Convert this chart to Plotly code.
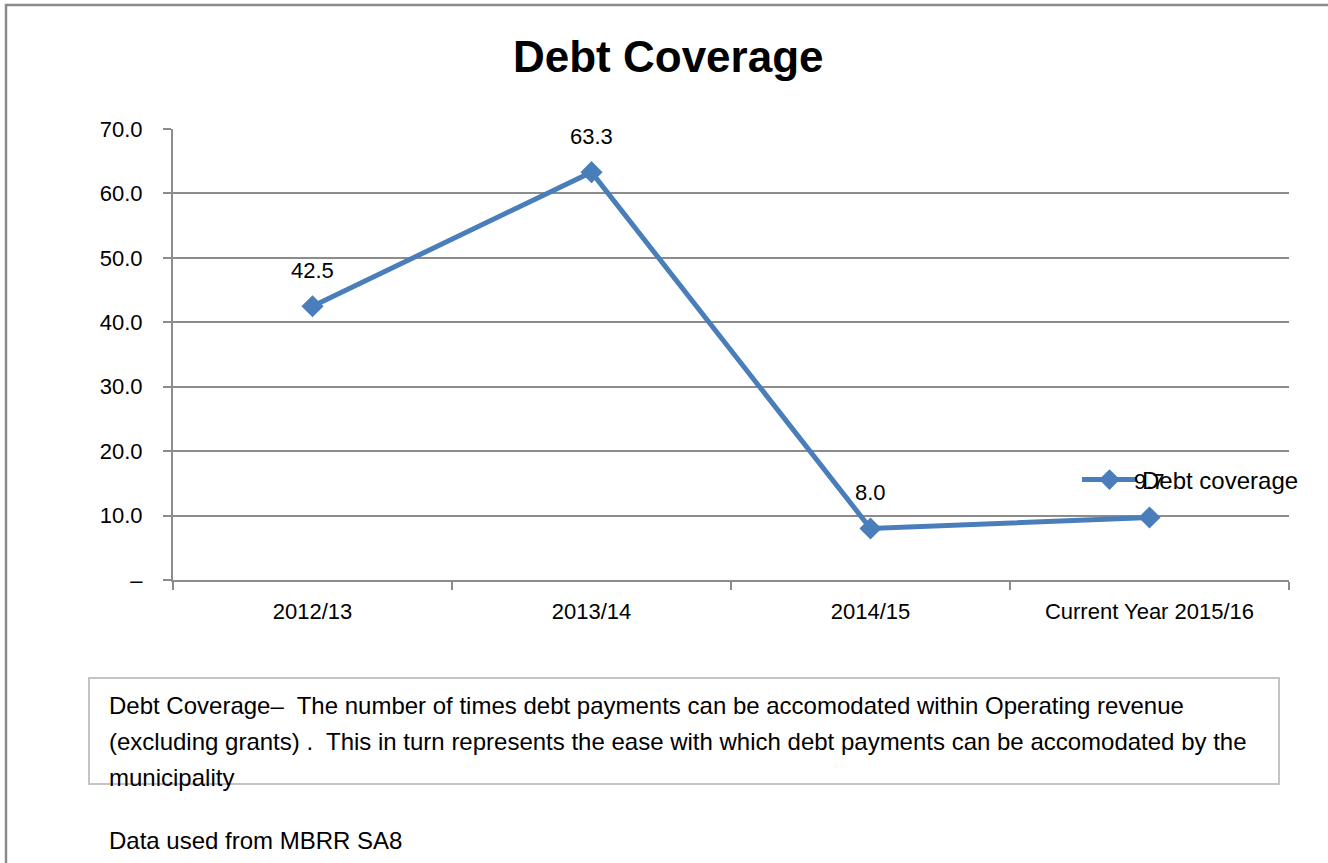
import plotly.graph_objects as go

# Debt coverage ratio per financial year
years = ["2012/13", "2013/14", "2014/15", "Current Year 2015/16"]
debt_coverage = [42.5, 63.3, 8.0, 9.7]
labels = ["42.5", "63.3", "8.0", "9.7"]

y_ticks = [0, 10, 20, 30, 40, 50, 60, 70]
y_tick_text = ["–", "10.0", "20.0", "30.0", "40.0", "50.0", "60.0", "70.0"]

note_lines = [
    "Debt Coverage–  The number of times debt payments can be accomodated within Operating revenue",
    "(excluding grants) .  This in turn represents the ease with which debt payments can be accomodated by the",
    "municipality",
]
source_note = "Data used from MBRR SA8"

FONT = "Liberation Sans, Arial, sans-serif"
LINE_COLOR = "#4a7ebb"
GRID = "#8c8c8c"

W, H = 1328, 863
L, R, T, B = 173, 39, 129, 283
pw, ph = W - L - R, H - T - B


def px(x):
    return (x - L) / pw


def py(y):
    return (H - B - y) / ph


fig = go.Figure()
fig.add_trace(go.Scatter(
    x=years, y=debt_coverage, name="Debt coverage",
    mode="lines+markers",
    line=dict(color=LINE_COLOR, width=5),
    marker=dict(symbol="diamond", size=17, color=LINE_COLOR),
    cliponaxis=False,
))

fig.update_layout(
    width=W, height=H, autosize=False,
    margin=dict(l=L, r=R, t=T, b=B),
    paper_bgcolor="white", plot_bgcolor="white",
    font=dict(family=FONT, color="#000"),
    showlegend=True,
    legend=dict(x=px(1077), y=py(480), xanchor="left", yanchor="middle",
                bgcolor="rgba(0,0,0,0)", font=dict(size=24, family=FONT),
                itemwidth=55, tracegroupgap=0),
    xaxis=dict(
        type="category", range=[-0.5, 3.5], tickson="boundaries",
        ticks="outside", ticklen=8, tickcolor=GRID, tickwidth=2,
        showline=True, linecolor=GRID, linewidth=2, showgrid=False,
        tickfont=dict(size=22, family=FONT), ticklabelstandoff=11,
        fixedrange=True,
    ),
    yaxis=dict(
        range=[0, 70], tickvals=y_ticks, ticktext=y_tick_text,
        ticks="outside", ticklen=8, tickcolor=GRID, tickwidth=2,
        showline=True, linecolor=GRID, linewidth=2,
        showgrid=True, gridcolor=GRID, gridwidth=2, zeroline=False,
        tickfont=dict(size=22, family=FONT), ticklabelstandoff=16,
    ),
)

shapes = [
    # outer chart frame
    dict(type="rect", xref="paper", yref="paper",
         x0=px(6), x1=px(W + 20), y0=py(H + 20), y1=py(5),
         line=dict(color="#8a8a8a", width=2.5), fillcolor="rgba(0,0,0,0)"),
    # note box
    dict(type="rect", xref="paper", yref="paper",
         x0=px(89), x1=px(1279), y0=py(784), y1=py(678),
         line=dict(color="#c4c4c4", width=2), fillcolor="rgba(0,0,0,0)"),
]
fig.update_layout(shapes=shapes)

annotations = [
    dict(text="<b>Debt Coverage</b>", xref="paper", yref="paper",
         x=px(668), y=py(57), xanchor="center", yanchor="middle",
         showarrow=False, font=dict(size=44, family=FONT, color="#000")),
]
# value labels above each point
for yr, val, lab in zip(years, debt_coverage, labels):
    annotations.append(dict(
        text=lab, x=yr, y=val, xref="x", yref="y",
        yshift=36, xanchor="center", yanchor="middle", showarrow=False,
        font=dict(size=22, family=FONT, color="#000")))
for i, line in enumerate(note_lines):
    annotations.append(dict(
        text=line, xref="paper", yref="paper",
        x=px(107), y=py(705 + 36 * i), xanchor="left", yanchor="middle",
        showarrow=False, font=dict(size=24, family=FONT, color="#000")))
annotations.append(dict(
    text=source_note, xref="paper", yref="paper",
    x=px(107), y=py(840), xanchor="left", yanchor="middle",
    showarrow=False, font=dict(size=24, family=FONT, color="#000")))
fig.update_layout(annotations=annotations)

fig.write_html("out.html")
